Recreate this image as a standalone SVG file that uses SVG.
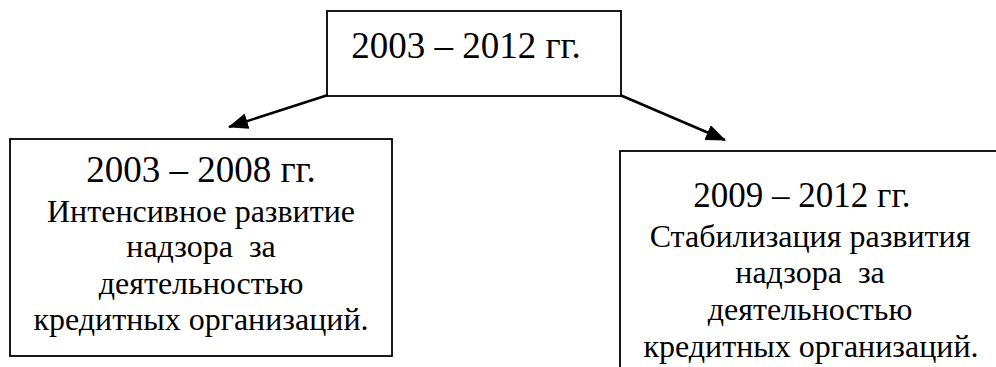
<svg xmlns="http://www.w3.org/2000/svg" width="996" height="367" viewBox="0 0 996 367">
<style>
.box{fill:#fff;stroke:#000;stroke-width:1.8}
.t{font-family:"Liberation Serif","Times New Roman",serif;fill:#000;text-anchor:middle;white-space:pre}
.h{font-size:37px}
.hr{font-size:35px}
.b{font-size:32px}
.c{stroke:#000;stroke-width:2.5;fill:none}
</style>
<defs>
<marker id="ah" markerUnits="userSpaceOnUse" markerWidth="20" markerHeight="16" refX="19" refY="8" orient="auto">
<path d="M0,0 L20,8 L0,16 Z" fill="#000"/>
</marker>
</defs>
<rect width="996" height="367" fill="#fff"/>
<g id="top">
<rect class="box" x="327" y="11" width="294" height="85"/>
<text class="t h" x="466" y="58">2003 – 2012 гг.</text>
</g>
<g id="left">
<rect class="box" x="10" y="139" width="382" height="217"/>
<text class="t h" x="201" y="182">2003 – 2008 гг.</text>
<text class="t b" x="201" y="222">Интенсивное развитие</text>
<text class="t b" x="201" y="257">надзора  за</text>
<text class="t b" x="201" y="294">деятельностью</text>
<text class="t b" x="201" y="330">кредитных организаций.</text>
</g>
<g id="right">
<rect class="box" x="620" y="151" width="400" height="240"/>
<text class="t hr" x="802" y="207">2009 – 2012 гг.</text>
<text class="t b" x="810" y="247">Стабилизация развития</text>
<text class="t b" x="810" y="283">надзора  за</text>
<text class="t b" x="810" y="320">деятельностью</text>
<text class="t b" x="811" y="357">кредитных организаций.</text>
</g>
<g id="connectors">
<line class="c" x1="328" y1="95" x2="229" y2="127" marker-end="url(#ah)"/>
<line class="c" x1="620" y1="95" x2="725" y2="140" marker-end="url(#ah)"/>
</g>
</svg>
